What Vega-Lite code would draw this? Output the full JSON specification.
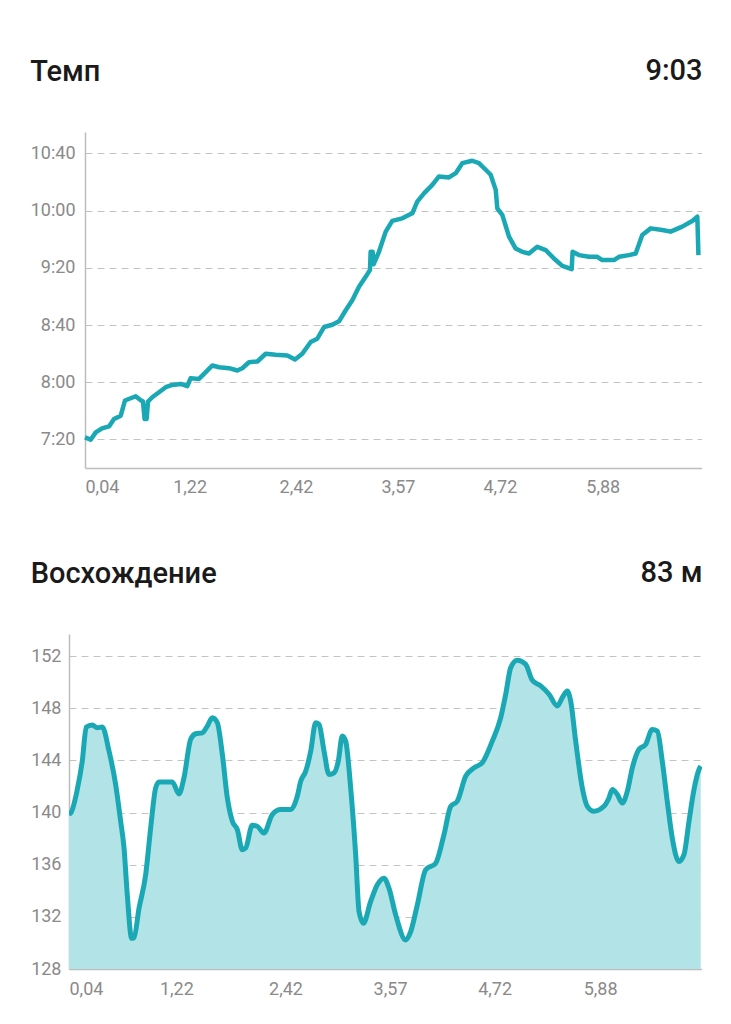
{
  "$schema": "https://vega.github.io/schema/vega-lite/v6.json",
  "background": "white",
  "padding": {"left": 30, "top": 56, "right": 0, "bottom": 0},
  "columns": 1,
  "spacing": 62,
  "concat": [
    {
      "width": 633,
      "height": 336,
      "title": {"text": "Темп", "anchor": "start", "frame": "bounds", "offset": -31},
      "data": {
        "values": [
          {"km": 0.04, "pace": 441.4}, {"km": 0.104, "pace": 439.8}, {"km": 0.161, "pace": 444.9},
          {"km": 0.232, "pace": 447.7}, {"km": 0.311, "pace": 449.1}, {"km": 0.367, "pace": 454.2},
          {"km": 0.443, "pace": 456.6}, {"km": 0.491, "pace": 467.2}, {"km": 0.555, "pace": 468.8},
          {"km": 0.612, "pace": 470.2}, {"km": 0.668, "pace": 467.4}, {"km": 0.694, "pace": 466.5},
          {"km": 0.712, "pace": 454.2}, {"km": 0.735, "pace": 454.2}, {"km": 0.751, "pace": 466.5},
          {"km": 0.799, "pace": 469.5}, {"km": 0.875, "pace": 473.0}, {"km": 0.95, "pace": 476.5},
          {"km": 1.025, "pace": 478.1}, {"km": 1.119, "pace": 478.8}, {"km": 1.194, "pace": 477.2},
          {"km": 1.232, "pace": 482.8}, {"km": 1.326, "pace": 482.3}, {"km": 1.402, "pace": 487.0},
          {"km": 1.476, "pace": 491.7}, {"km": 1.552, "pace": 490.5}, {"km": 1.664, "pace": 489.8},
          {"km": 1.758, "pace": 488.2}, {"km": 1.814, "pace": 489.8}, {"km": 1.89, "pace": 494.0},
          {"km": 1.984, "pace": 494.5}, {"km": 2.078, "pace": 499.9}, {"km": 2.191, "pace": 499.2},
          {"km": 2.322, "pace": 498.7}, {"km": 2.409, "pace": 495.9}, {"km": 2.491, "pace": 499.9},
          {"km": 2.586, "pace": 508.1}, {"km": 2.66, "pace": 510.4}, {"km": 2.736, "pace": 518.6},
          {"km": 2.83, "pace": 520.2}, {"km": 2.905, "pace": 522.6}, {"km": 2.981, "pace": 530.3},
          {"km": 3.055, "pace": 537.3}, {"km": 3.131, "pace": 546.7}, {"km": 3.206, "pace": 553.7},
          {"km": 3.255, "pace": 558.6}, {"km": 3.262, "pace": 571.2}, {"km": 3.285, "pace": 571.2},
          {"km": 3.295, "pace": 562.5}, {"km": 3.356, "pace": 571.2}, {"km": 3.432, "pace": 585.3},
          {"km": 3.506, "pace": 592.8}, {"km": 3.619, "pace": 594.6}, {"km": 3.732, "pace": 598.1},
          {"km": 3.788, "pace": 606.3}, {"km": 3.864, "pace": 612.1}, {"km": 3.958, "pace": 618.0},
          {"km": 4.033, "pace": 623.9}, {"km": 4.146, "pace": 623.2}, {"km": 4.222, "pace": 626.2},
          {"km": 4.296, "pace": 633.2}, {"km": 4.409, "pace": 634.9}, {"km": 4.484, "pace": 633.2},
          {"km": 4.56, "pace": 628.6}, {"km": 4.616, "pace": 625.1}, {"km": 4.673, "pace": 614.5},
          {"km": 4.691, "pace": 601.6}, {"km": 4.747, "pace": 597.0}, {"km": 4.823, "pace": 581.8},
          {"km": 4.898, "pace": 573.5}, {"km": 4.973, "pace": 571.2}, {"km": 5.048, "pace": 570.0},
          {"km": 5.142, "pace": 574.7}, {"km": 5.237, "pace": 572.4}, {"km": 5.33, "pace": 566.5},
          {"km": 5.424, "pace": 561.4}, {"km": 5.53, "pace": 559.1}, {"km": 5.54, "pace": 571.2},
          {"km": 5.612, "pace": 568.9}, {"km": 5.725, "pace": 567.7}, {"km": 5.819, "pace": 567.7},
          {"km": 5.875, "pace": 565.4}, {"km": 6.007, "pace": 565.4}, {"km": 6.064, "pace": 567.7},
          {"km": 6.176, "pace": 568.9}, {"km": 6.252, "pace": 570.0}, {"km": 6.326, "pace": 582.9},
          {"km": 6.421, "pace": 587.6}, {"km": 6.552, "pace": 586.5}, {"km": 6.646, "pace": 585.3},
          {"km": 6.777, "pace": 588.8}, {"km": 6.89, "pace": 592.8}, {"km": 6.947, "pace": 595.8},
          {"km": 6.96, "pace": 568.9}
        ]
      },
      "layer": [
        {
          "mark": {"type": "line", "color": "#1aa9b4", "strokeWidth": 4.5, "strokeJoin": "round"},
          "encoding": {
            "x": {
              "field": "km", "type": "quantitative",
              "scale": {"domain": [0.04, 7.0], "range": [16, 633], "nice": false, "zero": false},
              "axis": {
                "title": null, "grid": false, "ticks": false, "labelPadding": 10,
                "values": [0.04, 1.22, 2.42, 3.57, 4.72, 5.88],
                "labelExpr": "replace(format(datum.value, '.2f'), '.', ',')",
                "labelFlush": true, "labelOverlap": false
              }
            },
            "y": {
              "field": "pace", "type": "quantitative",
              "scale": {"domain": [420, 655], "nice": false, "zero": false},
              "axis": {
                "title": null, "ticks": false, "labelPadding": 10, "offset": -16,
                "values": [440, 480, 520, 560, 600, 640],
                "labelExpr": "floor(datum.value / 60) + ':' + (datum.value % 60 < 10 ? '0' : '') + (datum.value % 60)"
              }
            }
          }
        },
        {
          "mark": {"type": "line", "opacity": 0},
          "encoding": {
            "x": {
              "field": "km", "type": "quantitative",
              "scale": {"domain": [0.04, 7.0], "range": [16, 633], "nice": false, "zero": false},
              "axis": {
                "orient": "top", "title": "9:03", "titleAnchor": "end", "titlePadding": 47,
                "domain": false, "ticks": false, "labels": false, "grid": false,
                "titleFontSize": 29, "titleFontWeight": 500, "titleColor": "#1a1a1a"
              }
            },
            "y": {"field": "pace", "type": "quantitative"}
          }
        }
      ],
      "resolve": {"axis": {"x": "independent"}}
    },
    {
      "width": 633,
      "height": 335,
      "title": {"text": "Восхождение", "anchor": "start", "frame": "bounds", "offset": -31},
      "data": {
        "values": [
          {"km": 0.04, "elev": 139.9}, {"km": 0.059, "elev": 139.97}, {"km": 0.131, "elev": 141.77},
          {"km": 0.186, "elev": 143.95}, {"km": 0.23, "elev": 146.56}, {"km": 0.296, "elev": 146.72},
          {"km": 0.351, "elev": 146.51}, {"km": 0.406, "elev": 146.56}, {"km": 0.48, "elev": 144.72},
          {"km": 0.553, "elev": 142.15}, {"km": 0.608, "elev": 139.33}, {"km": 0.645, "elev": 137.28},
          {"km": 0.681, "elev": 133.69}, {"km": 0.729, "elev": 130.35}, {"km": 0.755, "elev": 130.41},
          {"km": 0.81, "elev": 132.66}, {"km": 0.883, "elev": 135.23}, {"km": 0.938, "elev": 138.82},
          {"km": 0.993, "elev": 141.89}, {"km": 1.03, "elev": 142.35}, {"km": 1.176, "elev": 142.35},
          {"km": 1.249, "elev": 141.43}, {"km": 1.304, "elev": 142.66}, {"km": 1.378, "elev": 145.62},
          {"km": 1.433, "elev": 146.05}, {"km": 1.506, "elev": 146.12}, {"km": 1.561, "elev": 146.64},
          {"km": 1.616, "elev": 147.28}, {"km": 1.671, "elev": 146.89}, {"km": 1.726, "elev": 144.46},
          {"km": 1.781, "elev": 141.12}, {"km": 1.836, "elev": 139.33}, {"km": 1.891, "elev": 138.69},
          {"km": 1.945, "elev": 137.15}, {"km": 1.983, "elev": 137.28}, {"km": 2.055, "elev": 139.02},
          {"km": 2.11, "elev": 138.95}, {"km": 2.184, "elev": 138.43}, {"km": 2.275, "elev": 139.85},
          {"km": 2.368, "elev": 140.23}, {"km": 2.478, "elev": 140.23}, {"km": 2.55, "elev": 141.25},
          {"km": 2.588, "elev": 142.41}, {"km": 2.643, "elev": 143.18}, {"km": 2.698, "elev": 144.72},
          {"km": 2.752, "elev": 146.89}, {"km": 2.789, "elev": 146.77}, {"km": 2.844, "elev": 144.72},
          {"km": 2.899, "elev": 142.92}, {"km": 2.954, "elev": 143.05}, {"km": 3.001, "elev": 143.95},
          {"km": 3.045, "elev": 145.87}, {"km": 3.082, "elev": 145.48}, {"km": 3.137, "elev": 141.89},
          {"km": 3.192, "elev": 136.77}, {"km": 3.229, "elev": 132.41}, {"km": 3.276, "elev": 131.51},
          {"km": 3.357, "elev": 133.18}, {"km": 3.43, "elev": 134.46}, {"km": 3.503, "elev": 134.97},
          {"km": 3.558, "elev": 134.2}, {"km": 3.632, "elev": 132.15}, {"km": 3.742, "elev": 130.23},
          {"km": 3.797, "elev": 130.87}, {"km": 3.87, "elev": 132.92}, {"km": 3.962, "elev": 135.62},
          {"km": 4.072, "elev": 136.12}, {"km": 4.163, "elev": 138.31}, {"km": 4.237, "elev": 140.48},
          {"km": 4.309, "elev": 140.87}, {"km": 4.402, "elev": 142.79}, {"km": 4.493, "elev": 143.43},
          {"km": 4.584, "elev": 143.82}, {"km": 4.694, "elev": 145.48}, {"km": 4.787, "elev": 147.28},
          {"km": 4.842, "elev": 149.08}, {"km": 4.897, "elev": 151.12}, {"km": 4.969, "elev": 151.69},
          {"km": 5.061, "elev": 151.38}, {"km": 5.134, "elev": 150.15}, {"km": 5.226, "elev": 149.72},
          {"km": 5.318, "elev": 149.08}, {"km": 5.409, "elev": 148.18}, {"km": 5.464, "elev": 148.82},
          {"km": 5.519, "elev": 149.33}, {"km": 5.556, "elev": 148.56}, {"km": 5.611, "elev": 145.48},
          {"km": 5.684, "elev": 141.89}, {"km": 5.739, "elev": 140.48}, {"km": 5.812, "elev": 140.1},
          {"km": 5.922, "elev": 140.48}, {"km": 5.977, "elev": 141.12}, {"km": 6.014, "elev": 141.77},
          {"km": 6.069, "elev": 141.38}, {"km": 6.124, "elev": 140.74}, {"km": 6.179, "elev": 141.64},
          {"km": 6.234, "elev": 143.43}, {"km": 6.307, "elev": 144.85}, {"km": 6.381, "elev": 145.23},
          {"km": 6.453, "elev": 146.38}, {"km": 6.509, "elev": 146.25}, {"km": 6.563, "elev": 143.95},
          {"km": 6.618, "elev": 140.87}, {"km": 6.673, "elev": 138.05}, {"km": 6.747, "elev": 136.25},
          {"km": 6.802, "elev": 136.77}, {"km": 6.857, "elev": 139.33}, {"km": 6.912, "elev": 141.77},
          {"km": 6.967, "elev": 143.31}, {"km": 6.986, "elev": 143.56}
        ]
      },
      "layer": [
        {
          "mark": {
            "type": "area", "color": "#b2e3e6", "opacity": 1, "interpolate": "monotone", "clip": true,
            "line": {"color": "#1aa9b4", "strokeWidth": 5, "strokeJoin": "round"}
          },
          "encoding": {
            "x": {
              "field": "km", "type": "quantitative",
              "scale": {"domain": [0.04, 7.0], "nice": false, "zero": false},
              "axis": {
                "title": null, "grid": false, "ticks": false, "labelPadding": 11,
                "values": [0.04, 1.22, 2.42, 3.57, 4.72, 5.88],
                "labelExpr": "replace(format(datum.value, '.2f'), '.', ',')",
                "labelFlush": true, "labelOverlap": false
              }
            },
            "y": {
              "field": "elev", "type": "quantitative",
              "scale": {"domain": [128, 153.7], "nice": false, "zero": false},
              "axis": {
                "title": null, "ticks": false, "labelPadding": 8,
                "values": [128, 132, 136, 140, 144, 148, 152]
              }
            }
          }
        },
        {
          "mark": {"type": "line", "opacity": 0},
          "encoding": {
            "x": {
              "field": "km", "type": "quantitative",
              "scale": {"domain": [0.04, 7.0], "nice": false, "zero": false},
              "axis": {
                "orient": "top", "title": "83 м", "titleAnchor": "end", "titlePadding": 47,
                "domain": false, "ticks": false, "labels": false, "grid": false,
                "titleFontSize": 29, "titleFontWeight": 500, "titleColor": "#1a1a1a"
              }
            },
            "y": {"field": "elev", "type": "quantitative"}
          }
        }
      ],
      "resolve": {"axis": {"x": "independent"}}
    }
  ],
  "config": {
    "font": "Roboto",
    "view": {"stroke": null},
    "title": {"font": "Roboto", "fontSize": 29, "fontWeight": 500, "color": "#1a1a1a"},
    "axis": {
      "labelFont": "Roboto", "labelFontSize": 18, "labelColor": "#8a8a8a",
      "domainColor": "#bdbdbd", "domainWidth": 1.5,
      "gridColor": "#c4c4c4", "gridDash": [7, 5], "gridWidth": 1.2,
      "titleFont": "Roboto"
    }
  }
}
